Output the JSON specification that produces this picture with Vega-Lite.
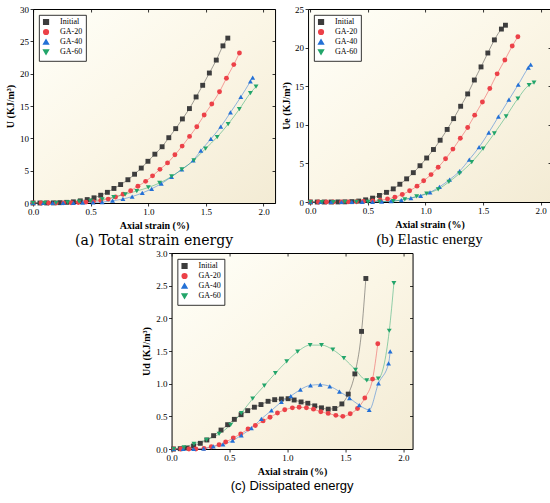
{
  "$schema": "https://vega.github.io/schema/vega-lite/v6.json",
  "background": "white",
  "padding": {"left": 5, "top": 4, "right": 0, "bottom": 0},
  "datasets": {
    "a": [
      {"s":"Initial","x":0.0,"y":0},{"s":"Initial","x":0.06,"y":0},{"s":"Initial","x":0.118,"y":0.01},{"s":"Initial","x":0.176,"y":0.02},{"s":"Initial","x":0.234,"y":0.05},{"s":"Initial","x":0.292,"y":0.1},{"s":"Initial","x":0.35,"y":0.18},{"s":"Initial","x":0.41,"y":0.33},{"s":"Initial","x":0.47,"y":0.53},{"s":"Initial","x":0.529,"y":0.8},{"s":"Initial","x":0.587,"y":1.2},{"s":"Initial","x":0.645,"y":1.65},{"s":"Initial","x":0.702,"y":2.25},{"s":"Initial","x":0.76,"y":2.85},{"s":"Initial","x":0.823,"y":3.6},{"s":"Initial","x":0.881,"y":4.45},{"s":"Initial","x":0.939,"y":5.4},{"s":"Initial","x":0.997,"y":6.45},{"s":"Initial","x":1.057,"y":7.55},{"s":"Initial","x":1.12,"y":8.7},{"s":"Initial","x":1.178,"y":10.1},{"s":"Initial","x":1.238,"y":11.5},{"s":"Initial","x":1.296,"y":13.0},{"s":"Initial","x":1.357,"y":14.6},{"s":"Initial","x":1.415,"y":16.4},{"s":"Initial","x":1.472,"y":18.2},{"s":"Initial","x":1.53,"y":20.1},{"s":"Initial","x":1.59,"y":22.1},{"s":"Initial","x":1.648,"y":24.3},{"s":"Initial","x":1.69,"y":25.5},
      {"s":"GA-20","x":0.0,"y":0},{"s":"GA-20","x":0.07,"y":0},{"s":"GA-20","x":0.135,"y":0},{"s":"GA-20","x":0.2,"y":0.01},{"s":"GA-20","x":0.265,"y":0.02},{"s":"GA-20","x":0.33,"y":0.05},{"s":"GA-20","x":0.393,"y":0.08},{"s":"GA-20","x":0.458,"y":0.13},{"s":"GA-20","x":0.523,"y":0.22},{"s":"GA-20","x":0.588,"y":0.38},{"s":"GA-20","x":0.652,"y":0.6},{"s":"GA-20","x":0.716,"y":0.92},{"s":"GA-20","x":0.781,"y":1.35},{"s":"GA-20","x":0.847,"y":1.9},{"s":"GA-20","x":0.91,"y":2.6},{"s":"GA-20","x":0.977,"y":3.35},{"s":"GA-20","x":1.037,"y":4.2},{"s":"GA-20","x":1.101,"y":5.2},{"s":"GA-20","x":1.167,"y":6.2},{"s":"GA-20","x":1.231,"y":7.45},{"s":"GA-20","x":1.294,"y":8.8},{"s":"GA-20","x":1.358,"y":10.3},{"s":"GA-20","x":1.421,"y":11.8},{"s":"GA-20","x":1.485,"y":13.6},{"s":"GA-20","x":1.551,"y":15.3},{"s":"GA-20","x":1.618,"y":17.2},{"s":"GA-20","x":1.678,"y":19.3},{"s":"GA-20","x":1.742,"y":21.4},{"s":"GA-20","x":1.791,"y":23.2},
      {"s":"GA-40","x":0.0,"y":0},{"s":"GA-40","x":0.09,"y":0},{"s":"GA-40","x":0.17,"y":0},{"s":"GA-40","x":0.26,"y":0.01},{"s":"GA-40","x":0.35,"y":0.02},{"s":"GA-40","x":0.43,"y":0.04},{"s":"GA-40","x":0.52,"y":0.08},{"s":"GA-40","x":0.6,"y":0.15},{"s":"GA-40","x":0.69,"y":0.35},{"s":"GA-40","x":0.78,"y":0.62},{"s":"GA-40","x":0.86,"y":1.0},{"s":"GA-40","x":0.948,"y":1.55},{"s":"GA-40","x":1.029,"y":2.2},{"s":"GA-40","x":1.113,"y":3.0},{"s":"GA-40","x":1.202,"y":4.05},{"s":"GA-40","x":1.291,"y":5.2},{"s":"GA-40","x":1.39,"y":6.6},{"s":"GA-40","x":1.456,"y":8.1},{"s":"GA-40","x":1.543,"y":9.9},{"s":"GA-40","x":1.629,"y":11.8},{"s":"GA-40","x":1.713,"y":14.0},{"s":"GA-40","x":1.803,"y":16.4},{"s":"GA-40","x":1.886,"y":18.8},{"s":"GA-40","x":1.906,"y":19.4},
      {"s":"GA-60","x":0.0,"y":0},{"s":"GA-60","x":0.1,"y":0.01},{"s":"GA-60","x":0.2,"y":0.03},{"s":"GA-60","x":0.3,"y":0.1},{"s":"GA-60","x":0.4,"y":0.2},{"s":"GA-60","x":0.5,"y":0.33},{"s":"GA-60","x":0.6,"y":0.55},{"s":"GA-60","x":0.7,"y":0.9},{"s":"GA-60","x":0.8,"y":1.35},{"s":"GA-60","x":0.9,"y":1.85},{"s":"GA-60","x":1.0,"y":2.4},{"s":"GA-60","x":1.098,"y":3.1},{"s":"GA-60","x":1.202,"y":4.1},{"s":"GA-60","x":1.291,"y":5.2},{"s":"GA-60","x":1.395,"y":6.6},{"s":"GA-60","x":1.497,"y":8.4},{"s":"GA-60","x":1.598,"y":10.2},{"s":"GA-60","x":1.693,"y":12.2},{"s":"GA-60","x":1.79,"y":14.5},{"s":"GA-60","x":1.886,"y":17.0},{"s":"GA-60","x":1.935,"y":18.0}
    ],
    "b": [
      {"s":"Initial","x":0.0,"y":0},{"s":"Initial","x":0.06,"y":0},{"s":"Initial","x":0.12,"y":0},{"s":"Initial","x":0.18,"y":0},{"s":"Initial","x":0.24,"y":0.01},{"s":"Initial","x":0.3,"y":0.02},{"s":"Initial","x":0.36,"y":0.05},{"s":"Initial","x":0.42,"y":0.12},{"s":"Initial","x":0.48,"y":0.28},{"s":"Initial","x":0.54,"y":0.5},{"s":"Initial","x":0.6,"y":0.85},{"s":"Initial","x":0.661,"y":1.25},{"s":"Initial","x":0.72,"y":1.7},{"s":"Initial","x":0.777,"y":2.3},{"s":"Initial","x":0.836,"y":3.0},{"s":"Initial","x":0.894,"y":3.8},{"s":"Initial","x":0.952,"y":4.7},{"s":"Initial","x":1.01,"y":5.7},{"s":"Initial","x":1.069,"y":6.8},{"s":"Initial","x":1.127,"y":8.0},{"s":"Initial","x":1.188,"y":9.4},{"s":"Initial","x":1.244,"y":10.8},{"s":"Initial","x":1.305,"y":12.4},{"s":"Initial","x":1.366,"y":14.0},{"s":"Initial","x":1.424,"y":15.8},{"s":"Initial","x":1.482,"y":17.5},{"s":"Initial","x":1.541,"y":19.3},{"s":"Initial","x":1.598,"y":21.0},{"s":"Initial","x":1.659,"y":22.4},{"s":"Initial","x":1.694,"y":22.9},
      {"s":"GA-20","x":0.0,"y":0},{"s":"GA-20","x":0.07,"y":0},{"s":"GA-20","x":0.14,"y":0},{"s":"GA-20","x":0.2,"y":0},{"s":"GA-20","x":0.27,"y":0.01},{"s":"GA-20","x":0.33,"y":0.02},{"s":"GA-20","x":0.4,"y":0.04},{"s":"GA-20","x":0.46,"y":0.07},{"s":"GA-20","x":0.542,"y":0.12},{"s":"GA-20","x":0.606,"y":0.22},{"s":"GA-20","x":0.67,"y":0.38},{"s":"GA-20","x":0.734,"y":0.62},{"s":"GA-20","x":0.798,"y":0.98},{"s":"GA-20","x":0.862,"y":1.45},{"s":"GA-20","x":0.926,"y":2.05},{"s":"GA-20","x":0.984,"y":2.75},{"s":"GA-20","x":1.048,"y":3.55},{"s":"GA-20","x":1.11,"y":4.5},{"s":"GA-20","x":1.174,"y":5.6},{"s":"GA-20","x":1.238,"y":6.85},{"s":"GA-20","x":1.302,"y":8.25},{"s":"GA-20","x":1.366,"y":9.65},{"s":"GA-20","x":1.427,"y":11.25},{"s":"GA-20","x":1.494,"y":12.95},{"s":"GA-20","x":1.558,"y":14.7},{"s":"GA-20","x":1.622,"y":16.6},{"s":"GA-20","x":1.689,"y":18.4},{"s":"GA-20","x":1.753,"y":20.2},{"s":"GA-20","x":1.802,"y":21.4},
      {"s":"GA-40","x":0.0,"y":0},{"s":"GA-40","x":0.09,"y":0},{"s":"GA-40","x":0.18,"y":0},{"s":"GA-40","x":0.27,"y":0},{"s":"GA-40","x":0.36,"y":0.01},{"s":"GA-40","x":0.45,"y":0.02},{"s":"GA-40","x":0.54,"y":0.03},{"s":"GA-40","x":0.62,"y":0.05},{"s":"GA-40","x":0.7,"y":0.1},{"s":"GA-40","x":0.79,"y":0.25},{"s":"GA-40","x":0.873,"y":0.5},{"s":"GA-40","x":0.958,"y":0.8},{"s":"GA-40","x":1.039,"y":1.25},{"s":"GA-40","x":1.121,"y":1.95},{"s":"GA-40","x":1.209,"y":2.9},{"s":"GA-40","x":1.296,"y":4.0},{"s":"GA-40","x":1.38,"y":5.5},{"s":"GA-40","x":1.465,"y":7.1},{"s":"GA-40","x":1.549,"y":9.0},{"s":"GA-40","x":1.633,"y":11.05},{"s":"GA-40","x":1.724,"y":13.25},{"s":"GA-40","x":1.805,"y":15.2},{"s":"GA-40","x":1.893,"y":17.4},{"s":"GA-40","x":1.913,"y":17.8},
      {"s":"GA-60","x":0.0,"y":0},{"s":"GA-60","x":0.1,"y":0},{"s":"GA-60","x":0.2,"y":0},{"s":"GA-60","x":0.3,"y":0},{"s":"GA-60","x":0.4,"y":0.01},{"s":"GA-60","x":0.5,"y":0.02},{"s":"GA-60","x":0.6,"y":0.05},{"s":"GA-60","x":0.72,"y":0.12},{"s":"GA-60","x":0.82,"y":0.35},{"s":"GA-60","x":0.923,"y":0.72},{"s":"GA-60","x":1.01,"y":1.1},{"s":"GA-60","x":1.11,"y":1.65},{"s":"GA-60","x":1.203,"y":2.6},{"s":"GA-60","x":1.296,"y":3.7},{"s":"GA-60","x":1.401,"y":5.15},{"s":"GA-60","x":1.5,"y":6.9},{"s":"GA-60","x":1.598,"y":8.9},{"s":"GA-60","x":1.7,"y":11.1},{"s":"GA-60","x":1.802,"y":13.4},{"s":"GA-60","x":1.899,"y":15.15},{"s":"GA-60","x":1.942,"y":15.45}
    ],
    "c": [
      {"s":"Initial","x":0.017,"y":0},{"s":"Initial","x":0.075,"y":0.005},{"s":"Initial","x":0.133,"y":0.015},{"s":"Initial","x":0.19,"y":0.046},{"s":"Initial","x":0.248,"y":0.087},{"s":"Initial","x":0.305,"y":0.138},{"s":"Initial","x":0.363,"y":0.204},{"s":"Initial","x":0.427,"y":0.29},{"s":"Initial","x":0.484,"y":0.372},{"s":"Initial","x":0.542,"y":0.454},{"s":"Initial","x":0.6,"y":0.525},{"s":"Initial","x":0.657,"y":0.587},{"s":"Initial","x":0.715,"y":0.64},{"s":"Initial","x":0.772,"y":0.68},{"s":"Initial","x":0.833,"y":0.73},{"s":"Initial","x":0.89,"y":0.755},{"s":"Initial","x":0.948,"y":0.765},{"s":"Initial","x":1.006,"y":0.77},{"s":"Initial","x":1.058,"y":0.75},{"s":"Initial","x":1.118,"y":0.72},{"s":"Initial","x":1.176,"y":0.7},{"s":"Initial","x":1.236,"y":0.66},{"s":"Initial","x":1.294,"y":0.63},{"s":"Initial","x":1.352,"y":0.61},{"s":"Initial","x":1.409,"y":0.62},{"s":"Initial","x":1.47,"y":0.69},{"s":"Initial","x":1.525,"y":0.84},{"s":"Initial","x":1.582,"y":1.15},{"s":"Initial","x":1.64,"y":1.8},{"s":"Initial","x":1.677,"y":2.61},
      {"s":"GA-20","x":0.02,"y":0},{"s":"GA-20","x":0.08,"y":0},{"s":"GA-20","x":0.15,"y":0},{"s":"GA-20","x":0.21,"y":0},{"s":"GA-20","x":0.28,"y":0.01},{"s":"GA-20","x":0.343,"y":0.035},{"s":"GA-20","x":0.41,"y":0.066},{"s":"GA-20","x":0.467,"y":0.107},{"s":"GA-20","x":0.533,"y":0.17},{"s":"GA-20","x":0.597,"y":0.23},{"s":"GA-20","x":0.66,"y":0.305},{"s":"GA-20","x":0.723,"y":0.36},{"s":"GA-20","x":0.79,"y":0.43},{"s":"GA-20","x":0.85,"y":0.485},{"s":"GA-20","x":0.914,"y":0.55},{"s":"GA-20","x":0.977,"y":0.6},{"s":"GA-20","x":1.043,"y":0.63},{"s":"GA-20","x":1.101,"y":0.64},{"s":"GA-20","x":1.164,"y":0.63},{"s":"GA-20","x":1.225,"y":0.61},{"s":"GA-20","x":1.288,"y":0.57},{"s":"GA-20","x":1.352,"y":0.545},{"s":"GA-20","x":1.418,"y":0.515},{"s":"GA-20","x":1.478,"y":0.5},{"s":"GA-20","x":1.542,"y":0.54},{"s":"GA-20","x":1.605,"y":0.62},{"s":"GA-20","x":1.668,"y":0.78},{"s":"GA-20","x":1.735,"y":1.07},{"s":"GA-20","x":1.78,"y":1.61},
      {"s":"GA-40","x":0.02,"y":0},{"s":"GA-40","x":0.1,"y":0},{"s":"GA-40","x":0.19,"y":0},{"s":"GA-40","x":0.277,"y":0.005},{"s":"GA-40","x":0.36,"y":0.04},{"s":"GA-40","x":0.444,"y":0.07},{"s":"GA-40","x":0.527,"y":0.13},{"s":"GA-40","x":0.602,"y":0.21},{"s":"GA-40","x":0.689,"y":0.32},{"s":"GA-40","x":0.775,"y":0.46},{"s":"GA-40","x":0.862,"y":0.59},{"s":"GA-40","x":0.948,"y":0.72},{"s":"GA-40","x":1.029,"y":0.81},{"s":"GA-40","x":1.112,"y":0.91},{"s":"GA-40","x":1.199,"y":0.975},{"s":"GA-40","x":1.283,"y":0.985},{"s":"GA-40","x":1.366,"y":0.96},{"s":"GA-40","x":1.449,"y":0.88},{"s":"GA-40","x":1.536,"y":0.78},{"s":"GA-40","x":1.62,"y":0.67},{"s":"GA-40","x":1.706,"y":0.6},{"s":"GA-40","x":1.786,"y":1.005},{"s":"GA-40","x":1.873,"y":1.31},{"s":"GA-40","x":1.887,"y":1.495},
      {"s":"GA-60","x":0.02,"y":0},{"s":"GA-60","x":0.107,"y":0.025},{"s":"GA-60","x":0.193,"y":0.08},{"s":"GA-60","x":0.302,"y":0.14},{"s":"GA-60","x":0.41,"y":0.23},{"s":"GA-60","x":0.51,"y":0.37},{"s":"GA-60","x":0.602,"y":0.55},{"s":"GA-60","x":0.7,"y":0.77},{"s":"GA-60","x":0.801,"y":0.97},{"s":"GA-60","x":0.896,"y":1.16},{"s":"GA-60","x":0.994,"y":1.34},{"s":"GA-60","x":1.088,"y":1.49},{"s":"GA-60","x":1.196,"y":1.59},{"s":"GA-60","x":1.294,"y":1.59},{"s":"GA-60","x":1.392,"y":1.52},{"s":"GA-60","x":1.487,"y":1.39},{"s":"GA-60","x":1.588,"y":1.21},{"s":"GA-60","x":1.685,"y":1.05},{"s":"GA-60","x":1.784,"y":1.076},{"s":"GA-60","x":1.879,"y":1.81},{"s":"GA-60","x":1.919,"y":2.54}
    ]
  },
  "vconcat": [
    {
      "hconcat": [
        {
          "width": 242, "height": 194,
          "data": {"name": "a"},
          "title": {"text": "(a) Total strain energy", "orient": "bottom", "font": "DejaVu Serif", "fontSize": 14, "fontWeight": "normal", "color": "#000", "offset": 3, "anchor": "middle", "frame": "group"},
          "layer": [
            {"mark": {"type": "line", "interpolate": "monotone", "strokeWidth": 0.9, "strokeOpacity": 0.55, "clip": false},
             "encoding": {
               "x": {"field": "x", "type": "quantitative", "scale": {"domain": [0, 2.1], "nice": false, "zero": false}, "axis": {"orient": "bottom", "values": [0, 0.5, 1, 1.5, 2], "format": ".1f", "title": "Axial strain (%)"}},
               "y": {"field": "y", "type": "quantitative", "scale": {"domain": [0, 30], "nice": false}, "axis": {"orient": "left", "values": [0, 5, 10, 15, 20, 25, 30], "format": "d", "title": "U (KJ/m³)"}},
               "color": {"field": "s", "type": "nominal", "scale": {"domain": ["Initial", "GA-20", "GA-40", "GA-60"], "range": ["#3D3D3D", "#EC4148", "#2370D6", "#22A56A"]}}
             }},
            {"mark": {"type": "point", "filled": true, "size": 24, "opacity": 1, "clip": false},
             "encoding": {
               "x": {"field": "x", "type": "quantitative", "axis": {"orient": "top", "values": [0, 0.5, 1, 1.5, 2], "labels": false, "title": null, "tickSize": -3}},
               "y": {"field": "y", "type": "quantitative", "axis": {"orient": "right", "values": [0, 5, 10, 15, 20, 25, 30], "labels": false, "title": null, "tickSize": -3}},
               "color": {"field": "s", "type": "nominal", "legend": {"orient": "top-left", "offset": 6, "title": null}},
               "shape": {"field": "s", "type": "nominal", "scale": {"domain": ["Initial", "GA-20", "GA-40", "GA-60"], "range": ["square", "circle", "triangle-up", "triangle-down"]}, "legend": {"orient": "top-left", "offset": 6, "title": null}}
             }}
          ],
          "resolve": {"axis": {"x": "independent", "y": "independent"}}
        },
        {
          "width": 243, "height": 193,
          "data": {"name": "b"},
          "title": {"text": "(b) Elastic energy", "orient": "bottom", "font": "Liberation Serif", "fontSize": 15, "fontWeight": "normal", "color": "#000", "offset": 2, "anchor": "middle", "frame": "group"},
          "layer": [
            {"mark": {"type": "line", "interpolate": "monotone", "strokeWidth": 0.9, "strokeOpacity": 0.55, "clip": false},
             "encoding": {
               "x": {"field": "x", "type": "quantitative", "scale": {"domain": [-0.02, 2.09], "nice": false, "zero": false}, "axis": {"orient": "bottom", "values": [0, 0.5, 1, 1.5, 2], "format": ".1f", "title": "Axial strain (%)"}},
               "y": {"field": "y", "type": "quantitative", "scale": {"domain": [0, 25], "nice": false}, "axis": {"orient": "left", "values": [0, 5, 10, 15, 20, 25], "format": "d", "title": "Ue (KJ/m³)", "titlePadding": 3}},
               "color": {"field": "s", "type": "nominal", "scale": {"domain": ["Initial", "GA-20", "GA-40", "GA-60"], "range": ["#3D3D3D", "#EC4148", "#2370D6", "#22A56A"]}}
             }},
            {"mark": {"type": "point", "filled": true, "size": 24, "opacity": 1, "clip": false},
             "encoding": {
               "x": {"field": "x", "type": "quantitative", "axis": {"orient": "top", "values": [0, 0.5, 1, 1.5, 2], "labels": false, "title": null, "tickSize": -3}},
               "y": {"field": "y", "type": "quantitative", "axis": {"orient": "right", "values": [0, 5, 10, 15, 20, 25], "labels": false, "title": null, "tickSize": -3}},
               "color": {"field": "s", "type": "nominal", "legend": {"orient": "top-left", "offset": 6, "title": null}},
               "shape": {"field": "s", "type": "nominal", "scale": {"domain": ["Initial", "GA-20", "GA-40", "GA-60"], "range": ["square", "circle", "triangle-up", "triangle-down"]}, "legend": {"orient": "top-left", "offset": 6, "title": null}}
             }}
          ],
          "resolve": {"axis": {"x": "independent", "y": "independent"}}
        }
      ],
      "spacing": 5,
      "resolve": {"scale": {"color": "independent", "shape": "independent"}, "legend": {"color": "independent", "shape": "independent"}}
    },
    {
      "width": 241, "height": 196,
      "data": {"name": "c"},
      "title": {"text": "(c) Dissipated energy", "orient": "bottom", "font": "Liberation Sans", "fontSize": 13, "fontWeight": "normal", "color": "#000", "offset": 3, "anchor": "middle", "frame": "group"},
      "layer": [
        {"mark": {"type": "line", "interpolate": "monotone", "strokeWidth": 0.9, "strokeOpacity": 0.55, "clip": false},
         "encoding": {
           "x": {"field": "x", "type": "quantitative", "scale": {"domain": [0, 2.08], "nice": false, "zero": false}, "axis": {"orient": "bottom", "values": [0, 0.5, 1, 1.5, 2], "format": ".1f", "title": "Axial strain (%)"}},
           "y": {"field": "y", "type": "quantitative", "scale": {"domain": [0, 3], "nice": false}, "axis": {"orient": "left", "values": [0, 0.5, 1, 1.5, 2, 2.5, 3], "format": ".1f", "title": "Ud (KJ/m³)"}},
           "color": {"field": "s", "type": "nominal", "scale": {"domain": ["Initial", "GA-20", "GA-40", "GA-60"], "range": ["#3D3D3D", "#EC4148", "#2370D6", "#22A56A"]}}
         }},
        {"mark": {"type": "point", "filled": true, "size": 24, "opacity": 1, "clip": false},
         "encoding": {
           "x": {"field": "x", "type": "quantitative", "axis": {"orient": "top", "values": [0, 0.5, 1, 1.5, 2], "labels": false, "title": null, "tickSize": -3}},
           "y": {"field": "y", "type": "quantitative", "axis": {"orient": "right", "values": [0, 0.5, 1, 1.5, 2, 2.5, 3], "labels": false, "title": null, "tickSize": -3}},
           "color": {"field": "s", "type": "nominal", "legend": {"orient": "top-left", "offset": 6, "title": null}},
           "shape": {"field": "s", "type": "nominal", "scale": {"domain": ["Initial", "GA-20", "GA-40", "GA-60"], "range": ["square", "circle", "triangle-up", "triangle-down"]}, "legend": {"orient": "top-left", "offset": 6, "title": null}}
         }}
      ],
      "resolve": {"axis": {"x": "independent", "y": "independent"}}
    }
  ],
  "spacing": 0,
  "center": true,
  "resolve": {"scale": {"color": "independent", "shape": "independent"}, "legend": {"color": "independent", "shape": "independent"}},
  "config": {
    "view": {"stroke": "#000", "strokeWidth": 1, "fill": {"gradient": "linear", "x1": 0, "y1": 0, "x2": 1, "y2": 1, "stops": [{"offset": 0, "color": "#FFFFF9"}, {"offset": 0.5, "color": "#FBF6E6"}, {"offset": 1, "color": "#F3EBD4"}]}},
    "axis": {"grid": false, "domain": false, "tickColor": "#000", "tickSize": 3, "tickWidth": 0.8, "labelFont": "Liberation Serif", "labelFontSize": 9, "labelColor": "#000", "labelPadding": 1.5, "labelFlush": false, "labelOverlap": false, "titleFont": "Liberation Serif", "titleFontSize": 10, "titleFontWeight": "bold", "titleColor": "#000", "titlePadding": 4},
    "legend": {"labelFont": "Liberation Serif", "labelFontSize": 8, "labelColor": "#000", "symbolSize": 22, "rowPadding": -3, "padding": 3, "fillColor": "#FFFFFF", "strokeColor": "#000", "strokeWidth": 0.8, "labelOffset": 10, "symbolOpacity": 1}
  }
}
